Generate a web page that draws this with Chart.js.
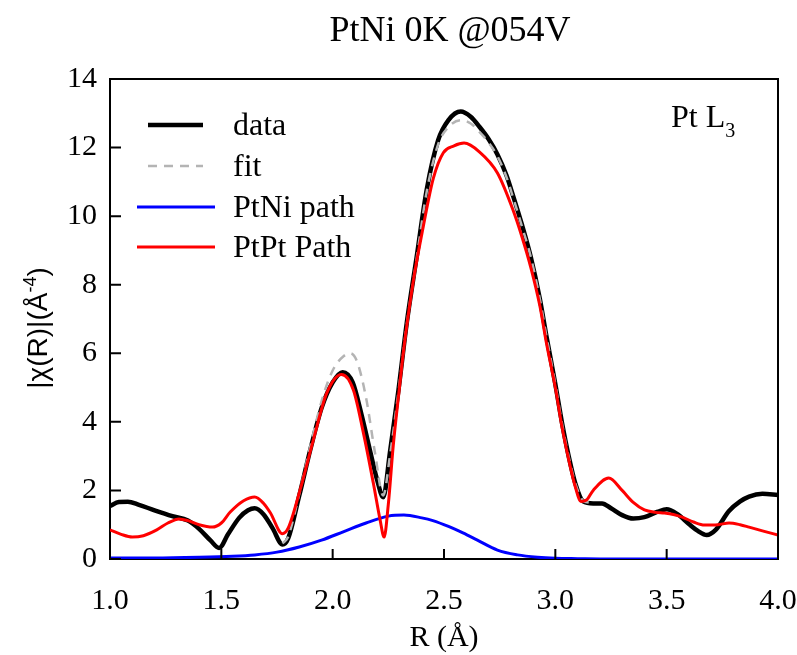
<!DOCTYPE html>
<html>
<head>
<meta charset="utf-8">
<script src="https://cdn.jsdelivr.net/npm/chart.js@4/dist/chart.umd.min.js"></script>
<style>
  html, body { margin: 0; padding: 0; background: #fff; }
  #wrap { width: 797px; height: 655px; position: relative; }
</style>
</head>
<body>
<div id="wrap"><canvas id="chart"></canvas></div>
<script>
// R values (Å) and |chi(R)| values
const dataR = [1.00, 1.04, 1.08, 1.13, 1.20, 1.28, 1.35, 1.40, 1.45, 1.49, 1.53, 1.58, 1.62, 1.65, 1.69, 1.73, 1.775, 1.80, 1.85, 1.90, 1.95, 2.00, 2.045, 2.09, 2.13, 2.17, 2.20, 2.227, 2.257, 2.295, 2.333, 2.377, 2.422, 2.474, 2.52, 2.575, 2.62, 2.66, 2.70, 2.74, 2.78, 2.81, 2.85, 2.89, 2.93, 2.96, 3.00, 3.03, 3.06, 3.09, 3.125, 3.17, 3.21, 3.25, 3.30, 3.35, 3.40, 3.46, 3.50, 3.55, 3.60, 3.64, 3.68, 3.72, 3.78, 3.83, 3.87, 3.93, 4.00];
const dataY = [1.55, 1.66, 1.67, 1.58, 1.42, 1.25, 1.12, 0.88, 0.55, 0.32, 0.72, 1.20, 1.42, 1.48, 1.30, 0.90, 0.42, 0.60, 1.85, 3.20, 4.40, 5.15, 5.45, 5.15, 4.20, 3.10, 2.30, 1.80, 3.10, 4.90, 6.90, 8.80, 10.76, 12.22, 12.80, 13.05, 12.90, 12.60, 12.25, 11.80, 11.20, 10.60, 9.75, 8.80, 7.60, 6.50, 5.10, 3.97, 3.00, 2.20, 1.68, 1.62, 1.62, 1.48, 1.28, 1.18, 1.22, 1.38, 1.45, 1.30, 1.02, 0.82, 0.70, 0.85, 1.40, 1.68, 1.82, 1.90, 1.87];

const fitR = [1.775, 1.80, 1.85, 1.90, 1.95, 2.00, 2.05, 2.08, 2.11, 2.15, 2.19, 2.227, 2.257, 2.295, 2.333, 2.377, 2.422, 2.474, 2.52, 2.575, 2.62, 2.66, 2.70, 2.74, 2.78, 2.81, 2.85, 2.89, 2.93, 2.96, 3.00, 3.03, 3.06, 3.09, 3.125, 3.15];
const fitY = [0.45, 0.65, 1.90, 3.30, 4.60, 5.50, 5.92, 6.00, 5.75, 4.70, 3.10, 1.85, 3.00, 4.85, 6.85, 8.75, 10.70, 12.10, 12.60, 12.80, 12.70, 12.45, 12.15, 11.75, 11.15, 10.55, 9.70, 8.80, 7.60, 6.50, 5.10, 3.95, 2.98, 2.20, 1.70, 1.65];

const ptniR = [1.00, 1.20, 1.40, 1.55, 1.65, 1.75, 1.85, 1.95, 2.05, 2.15, 2.25, 2.32, 2.40, 2.45, 2.52, 2.585, 2.65, 2.74, 2.83, 2.92, 3.00, 3.10, 3.25, 4.00];
const ptniY = [0.03, 0.03, 0.05, 0.08, 0.12, 0.20, 0.35, 0.55, 0.80, 1.05, 1.25, 1.28, 1.20, 1.12, 0.95, 0.76, 0.55, 0.26, 0.12, 0.05, 0.02, 0.01, 0.00, 0.00];

const ptptR = [1.00, 1.05, 1.10, 1.15, 1.21, 1.26, 1.31, 1.35, 1.40, 1.46, 1.50, 1.54, 1.60, 1.65, 1.69, 1.72, 1.774, 1.80, 1.853, 1.913, 1.973, 2.04, 2.093, 2.138, 2.183, 2.213, 2.231, 2.25, 2.272, 2.30, 2.317, 2.362, 2.407, 2.452, 2.497, 2.545, 2.59, 2.66, 2.74, 2.81, 2.85, 2.89, 2.93, 2.96, 3.00, 3.03, 3.06, 3.09, 3.115, 3.14, 3.17, 3.24, 3.30, 3.35, 3.40, 3.45, 3.49, 3.53, 3.57, 3.62, 3.67, 3.73, 3.78, 3.83, 3.87, 3.93, 4.00];
const ptptY = [0.85, 0.72, 0.64, 0.68, 0.85, 1.05, 1.17, 1.12, 1.00, 0.93, 1.05, 1.37, 1.70, 1.81, 1.62, 1.35, 0.74, 0.90, 2.00, 3.47, 4.83, 5.38, 4.93, 3.68, 2.20, 1.14, 0.64, 1.60, 3.30, 5.00, 6.00, 8.10, 9.70, 11.10, 11.85, 12.05, 12.13, 11.87, 11.26, 10.18, 9.40, 8.50, 7.40, 6.30, 5.00, 3.85, 2.90, 2.10, 1.68, 1.72, 2.00, 2.36, 2.00, 1.65, 1.43, 1.36, 1.34, 1.30, 1.22, 1.08, 0.99, 1.00, 1.05, 1.00, 0.93, 0.82, 0.70];

const xTicks = [1.0, 1.5, 2.0, 2.5, 3.0, 3.5, 4.0];
const yTicks = [0, 2, 4, 6, 8, 10, 12, 14];

const serif = "'Liberation Serif', 'Times New Roman', serif";
const sans = "'Liberation Sans', Arial, sans-serif";

const toPoints = (xs, ys) => xs.map((x, i) => ({ x: x, y: ys[i] }));

// inward ticks, box, legend and labels
const decorations = {
  id: "decorations",
  afterDraw(chart) {
    const ctx = chart.ctx;
    const { left, right, top, bottom } = chart.chartArea;
    const xs = chart.scales.x;
    const ys = chart.scales.y;
    ctx.save();
    ctx.strokeStyle = "#000";
    ctx.lineWidth = 2;
    ctx.beginPath();
    ctx.moveTo(left, top);
    ctx.lineTo(right, top);
    ctx.lineTo(right, bottom);
    ctx.stroke();
    ctx.beginPath();
    xTicks.forEach((v) => {
      const px = xs.getPixelForValue(v);
      ctx.moveTo(px, bottom);
      ctx.lineTo(px, bottom - 10);
    });
    yTicks.forEach((v) => {
      const py = ys.getPixelForValue(v);
      ctx.moveTo(left, py);
      ctx.lineTo(left + 11, py);
    });
    ctx.stroke();

    // legend
    const rows = [
      { y: 125, x0: 148, x1: 203 },
      { y: 166, x0: 148, x1: 203 },
      { y: 207, x0: 137, x1: 215 },
      { y: 247, x0: 137, x1: 215 },
    ];
    chart.data.datasets.forEach((ds, i) => {
      const r = rows[i];
      ctx.save();
      ctx.strokeStyle = ds.borderColor;
      ctx.lineWidth = ds.borderWidth;
      ctx.setLineDash(ds.borderDash || []);
      ctx.beginPath();
      ctx.moveTo(r.x0, r.y);
      ctx.lineTo(r.x1, r.y);
      ctx.stroke();
      ctx.restore();
      ctx.fillStyle = "#000";
      ctx.font = "32px " + serif;
      ctx.textBaseline = "middle";
      ctx.textAlign = "left";
      ctx.fillText(ds.label, 233, r.y + 2);
    });

    // title
    ctx.fillStyle = "#000";
    ctx.textAlign = "center";
    ctx.textBaseline = "alphabetic";
    ctx.font = "36px " + serif;
    ctx.fillText("PtNi 0K @054V", 450, 41);

    // edge label
    ctx.textAlign = "left";
    ctx.font = "32px " + serif;
    ctx.fillText("Pt L", 671, 127);
    const w = ctx.measureText("Pt L").width;
    ctx.font = "20px " + serif;
    ctx.fillText("3", 671 + w, 137);

    // x title
    ctx.textAlign = "center";
    ctx.font = "30px " + serif;
    ctx.fillText("R (\u00C5)", 444, 646);

    // y title, rotated
    ctx.save();
    ctx.translate(47, 328);
    ctx.rotate(-Math.PI / 2);
    const a = "|\u03C7(R)|(\u00C5";
    const sup = "-4";
    const b = ")";
    ctx.font = "28px " + sans;
    const wa = ctx.measureText(a).width;
    const wb = ctx.measureText(b).width;
    ctx.font = "18px " + sans;
    const ws = ctx.measureText(sup).width;
    let cx = -(wa + ws + wb) / 2;
    ctx.textAlign = "left";
    ctx.font = "28px " + sans;
    ctx.fillText(a, cx, 0);
    cx += wa;
    ctx.font = "18px " + sans;
    ctx.fillText(sup, cx, -11);
    cx += ws;
    ctx.font = "28px " + sans;
    ctx.fillText(b, cx, 0);
    ctx.restore();
    ctx.restore();
  },
};

new Chart(document.getElementById("chart"), {
  type: "line",
  data: {
    datasets: [
      {
        label: "data",
        data: toPoints(dataR, dataY),
        borderColor: "#000000",
        borderWidth: 4.5,
        order: 3,
      },
      {
        label: "fit",
        data: toPoints(fitR, fitY),
        borderColor: "#b4b4b4",
        borderWidth: 2.5,
        borderDash: [9, 7],
        order: 2,
      },
      {
        label: "PtNi path",
        data: toPoints(ptniR, ptniY),
        borderColor: "#0000ff",
        borderWidth: 3,
        order: 1,
      },
      {
        label: "PtPt Path",
        data: toPoints(ptptR, ptptY),
        borderColor: "#ff0000",
        borderWidth: 3,
        order: 0,
      },
    ],
  },
  options: {
    responsive: true,
    maintainAspectRatio: false,
    animation: false,
    elements: {
      point: { radius: 0 },
      line: { cubicInterpolationMode: "monotone", fill: false },
    },
    layout: { padding: { top: 79, right: 19, left: 0, bottom: 0 } },
    plugins: {
      legend: { display: false },
      tooltip: { enabled: false },
    },
    scales: {
      x: {
        type: "linear",
        min: 1,
        max: 4,
        afterFit: (s) => {
          s.height = 96;
          s.paddingLeft = 0;
          s.paddingRight = 0;
        },
        afterBuildTicks: (s) => { s.ticks = xTicks.map((v) => ({ value: v })); },
        grid: { display: false, drawTicks: false },
        border: { display: true, color: "#000", width: 2 },
        ticks: {
          padding: 24,
          color: "#000",
          font: { family: serif, size: 30 },
          callback: (v) => Number(v).toFixed(1),
          maxRotation: 0,
          autoSkip: false,
        },
      },
      y: {
        type: "linear",
        min: 0,
        max: 14,
        afterFit: (s) => {
          s.width = 110;
          s.paddingTop = 0;
          s.paddingBottom = 0;
        },
        afterBuildTicks: (s) => { s.ticks = yTicks.map((v) => ({ value: v })); },
        grid: { display: false, drawTicks: false },
        border: { display: true, color: "#000", width: 2 },
        ticks: {
          padding: 13,
          color: "#000",
          font: { family: serif, size: 30 },
          autoSkip: false,
        },
      },
    },
  },
  plugins: [decorations],
});
</script>
</body>
</html>
